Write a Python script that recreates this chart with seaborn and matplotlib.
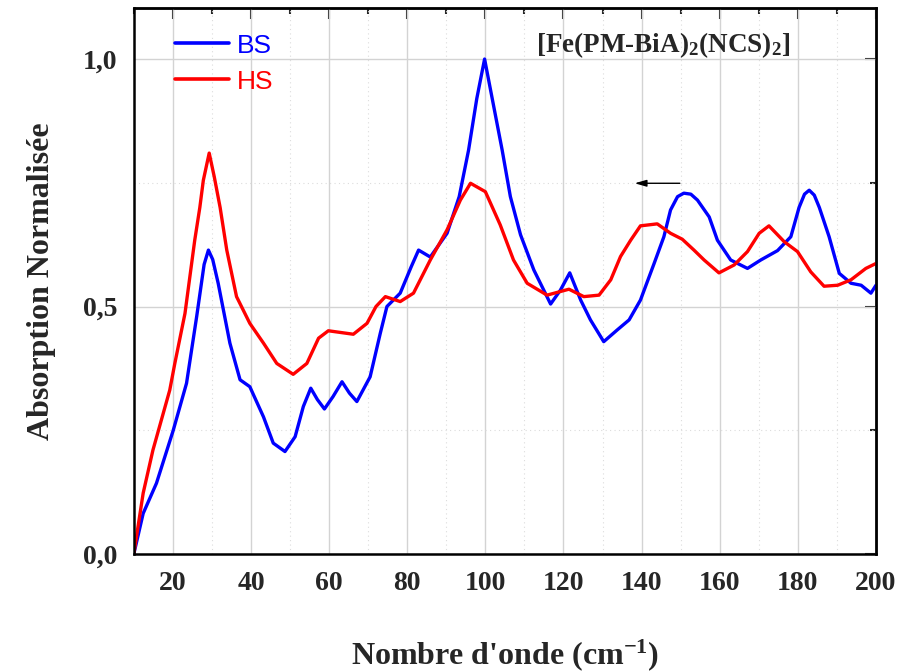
import matplotlib
matplotlib.use("Agg")
from matplotlib import pyplot as plt
from matplotlib.ticker import MultipleLocator, FuncFormatter
import numpy as np
import seaborn as sns
import pandas as pd

bs_x = [10.0, 12.4, 15.8, 20.1, 23.5, 26.1, 28.0, 29.1, 30.2, 31.6, 34.6, 37.2, 39.7,
        43.2, 45.7, 48.7, 51.3, 53.4, 55.3, 57.0, 58.8, 61.0, 63.3, 65.2, 67.1, 70.5,
        73.1, 74.8, 78.2, 81.0, 82.9, 85.9, 90.2, 93.3, 95.7, 97.8, 99.8, 102.0,
        104.3, 106.4, 109.0, 112.4, 116.7, 119.2, 121.6, 124.4, 126.9, 130.3, 133.8, 136.8,
        139.7, 143.2, 145.7, 147.4, 149.2, 150.8, 152.6, 154.3, 157.3, 159.4, 162.8, 167.1, 170.5,
        174.8, 178.2, 180.3, 181.7, 182.9, 184.2, 185.5, 188.0, 190.6, 193.6, 196.2, 198.7, 200.0]
bs_y = [0.0, 0.082, 0.143, 0.25, 0.345, 0.48, 0.585, 0.614, 0.595, 0.547, 0.426, 0.352, 0.338,
        0.277, 0.224, 0.207, 0.237, 0.298, 0.335, 0.312, 0.293, 0.318, 0.348, 0.325, 0.308, 0.358,
        0.446, 0.50, 0.527, 0.58, 0.614, 0.60, 0.648, 0.722, 0.816, 0.92, 1.0, 0.91,
        0.816, 0.722, 0.645, 0.574, 0.505, 0.533, 0.568, 0.513, 0.473, 0.429, 0.453, 0.473,
        0.513, 0.587, 0.641, 0.695, 0.722, 0.729, 0.727, 0.715, 0.681, 0.634, 0.594, 0.577, 0.594,
        0.613, 0.641, 0.70, 0.727, 0.735, 0.725, 0.70, 0.641, 0.567, 0.547, 0.543, 0.527, 0.543]

hs_x = [10.0, 12.4, 14.9, 19.2, 20.5, 23.1, 25.6, 26.9, 27.8, 29.3, 30.6, 32.1, 33.8, 36.3,
        39.7, 43.2, 46.6, 50.8, 54.3, 57.3, 59.8, 66.2, 69.7, 72.0, 74.4, 78.2, 81.6, 85.9,
        90.2, 93.6, 96.2, 100.0, 103.8, 107.2, 110.7, 115.8, 121.4, 125.2, 129.1, 132.1,
        134.6, 137.2, 139.7, 144.0, 147.4, 150.4, 153.4, 156.0, 159.8, 163.7, 167.1, 170.1,
        172.6, 176.5, 179.9, 183.3, 186.7, 190.2, 193.6, 197.4, 200.0]
hs_y = [0.0, 0.123, 0.21, 0.331, 0.385, 0.486, 0.634, 0.70, 0.755, 0.81, 0.762, 0.70, 0.614,
        0.52, 0.466, 0.426, 0.385, 0.363, 0.385, 0.436, 0.451, 0.444, 0.466, 0.50, 0.52, 0.51,
        0.527, 0.594, 0.655, 0.715, 0.749, 0.732, 0.665, 0.594, 0.547, 0.523, 0.535, 0.52,
        0.523, 0.554, 0.601, 0.634, 0.663, 0.667, 0.648, 0.636, 0.614, 0.594, 0.568, 0.584,
        0.611, 0.648, 0.663, 0.631, 0.611, 0.570, 0.541, 0.543, 0.554, 0.577, 0.587]

series_names = ["BS", "HS"]
series_colors = ["#0000ff", "#ff0000"]

df = pd.concat([
    pd.DataFrame({"x": bs_x, "y": bs_y, "etat": "BS"}),
    pd.DataFrame({"x": hs_x, "y": hs_y, "etat": "HS"}),
])

sns.set_style("white")
plt.rcParams["font.family"] = ["Liberation Serif", "DejaVu Serif"]
plt.rcParams["mathtext.fontset"] = "custom"
plt.rcParams["mathtext.rm"] = "Liberation Serif:bold"
plt.rcParams["mathtext.bf"] = "Liberation Serif:bold"
plt.rcParams["mathtext.it"] = "Liberation Serif:bold"

fig = plt.figure(figsize=(8.98, 6.72), dpi=100)
ax = fig.add_axes([0.149, 0.1756, 0.8265, 0.8124])

sns.lineplot(data=df, x="x", y="y", hue="etat", hue_order=series_names,
             palette=series_colors, estimator=None, sort=False, lw=2.4, ax=ax)

ax.set_xlim(10, 200)
ax.set_ylim(0, 1.103)

ax.xaxis.set_major_locator(MultipleLocator(20))
ax.xaxis.set_minor_locator(MultipleLocator(10))
ax.yaxis.set_major_locator(MultipleLocator(0.5))
ax.yaxis.set_minor_locator(MultipleLocator(0.25))
ax.yaxis.set_major_formatter(FuncFormatter(lambda v, p: f"{v:.1f}".replace(".", ",")))

ax.grid(which="major", color="#d3d3d3", lw=1.0, ls="-")
ax.grid(which="minor", color="#dcdcdc", lw=0.8, ls=(0, (1, 3)))
ax.set_axisbelow(True)

for s in ax.spines.values():
    s.set_linewidth(1.8)
    s.set_color("black")

ax.tick_params(which="major", direction="out", length=8, width=1.5,
               labelsize=20, pad=4)
ax.tick_params(which="minor", direction="out", length=4.5, width=1.5)
for lab in ax.get_xticklabels() + ax.get_yticklabels():
    lab.set_fontweight("bold")

# inward ticks on top and right
top = ax.secondary_xaxis("top")
top.xaxis.set_major_locator(MultipleLocator(20))
top.xaxis.set_minor_locator(MultipleLocator(10))
top.tick_params(which="major", direction="in", length=8, width=1.5, labeltop=False)
top.tick_params(which="minor", direction="in", length=4.5, width=1.5)
right = ax.secondary_yaxis("right")
right.yaxis.set_major_locator(MultipleLocator(0.5))
right.yaxis.set_minor_locator(MultipleLocator(0.25))
right.tick_params(which="major", direction="in", length=8, width=1.5, labelright=False)
right.tick_params(which="minor", direction="in", length=4.5, width=1.5)
for sec in (top, right):
    for s in sec.spines.values():
        s.set_linewidth(1.8)

ax.set_xlabel("Nombre d'onde (cm$^{\\mathbf{-1}}$)", fontsize=23, fontweight="bold")
ax.set_ylabel("Absorption Normalisée", fontsize=23, fontweight="bold")
ax.xaxis.set_label_coords(0.5, -0.152)
ax.yaxis.set_label_coords(-0.105, 0.5)

leg = ax.legend(loc="upper left", frameon=False, handlelength=2.05, handletextpad=0.3,
                labelspacing=0.45, borderaxespad=0, borderpad=0, labelcolor="linecolor",
                prop={"family": "Liberation Sans", "size": 19},
                bbox_to_anchor=(0.055, 0.953))
for h in leg.get_lines():
    h.set_linewidth(2.6)

ax.text(0.713, 0.932, "[Fe(PM-BiA)$_2$(NCS)$_2$]", transform=ax.transAxes,
        ha="center", va="center", fontsize=19.5, fontweight="bold")

ax.annotate("", xy=(137.5, 0.749), xytext=(150.5, 0.749),
            arrowprops=dict(arrowstyle="-|>,head_length=0.7,head_width=0.2",
                            color="black", lw=1.0))

fig.savefig("out.png", dpi=100)
